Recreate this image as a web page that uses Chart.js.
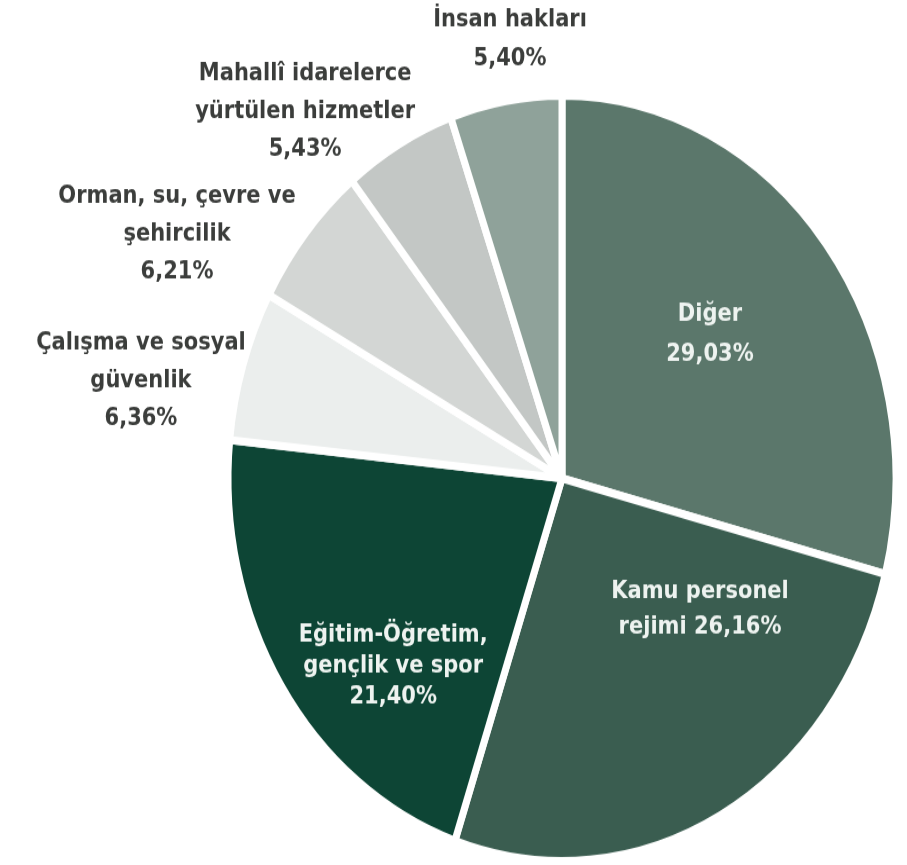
<!DOCTYPE html>
<html>
<head>
<meta charset="utf-8">
<script src="https://cdn.jsdelivr.net/npm/chart.js@4/dist/chart.umd.min.js"></script>
<style>
    html, body { margin: 0; padding: 0; background: #fff; width: 907px; height: 865px; overflow: hidden; }
    /* the reference picture is stretched vertically, so the whole canvas is too */
    #wrap { width: 907px; height: 755px; transform: scaleY(1.1457); transform-origin: 0 0; }
</style>
</head>
<body>
<div id="wrap"><canvas id="pieChart" width="907" height="755"></canvas></div>
<script>
// data
const categories = ['Diğer', 'Kamu personel rejimi', 'Eğitim-Öğretim, gençlik ve spor', 'Çalışma ve sosyal güvenlik',
    'Orman, su, çevre ve şehircilik', 'Mahallî idarelerce yürtülen hizmetler', 'İnsan hakları'];
const shares = [29.03, 26.16, 21.40, 6.36, 6.21, 5.43, 5.40];
const nameLines = [['Diğer'], ['Kamu personel', 'rejimi'], ['Eğitim-Öğretim,', 'gençlik ve spor'], ['Çalışma ve sosyal', 'güvenlik'],
    ['Orman, su, çevre ve', 'şehircilik'], ['Mahallî idarelerce', 'yürtülen hizmetler'], ['İnsan hakları']];

// styling
const sliceColors = ['#5b776b', '#3a5d50', '#0d4535', '#ebeeed', '#d3d6d4', '#c3c7c5', '#8fa29a'];
const insideLabel = [true, true, true, false, false, false, false];
const pctOnLastLine = [false, true, false, false, false, false, false];
// label block centre, in radius units from the pie centre, and line height
const labelAnchors = [[0.447, -0.379, 35], [0.417, 0.347, 31], [-0.51, 0.495, 27], [-1.272, -0.257, 33],
    [-1.163, -0.642, 33], [-0.776, -0.967, 33], [-0.157, -1.157, 34]];

const fmtPct = v => v.toFixed(2).replace('.', ',') + '%';

const sliceLabels = {
    id: 'sliceLabels',
    afterDraw(chart) {
        const ctx = chart.ctx;
        const arcs = chart.getDatasetMeta(0).data;
        const cx = arcs[0].x, cy = arcs[0].y;
        const r = arcs[0].outerRadius - 3;
        ctx.save();
        ctx.font = 'bold 21px "DejaVu Sans", sans-serif';
        ctx.textAlign = 'center';
        ctx.textBaseline = 'middle';
        shares.forEach((v, i) => {
            const lines = nameLines[i].slice();
            if (pctOnLastLine[i]) lines[lines.length - 1] += ' ' + fmtPct(v);
            else lines.push(fmtPct(v));
            const [dx, dy, lh] = labelAnchors[i];
            const x = cx + dx * r;
            const y0 = cy + dy * r - (lines.length - 1) * lh / 2;
            ctx.fillStyle = insideLabel[i] ? '#eef3f0' : '#3b3d3b';
            lines.forEach((t, k) => ctx.fillText(t, x, y0 + k * lh));
        });
        ctx.restore();
    }
};

new Chart(document.getElementById('pieChart'), {
    type: 'pie',
    data: {
        labels: categories,
        datasets: [{
            data: shares,
            backgroundColor: sliceColors,
            borderColor: '#ffffff',
            borderWidth: 7
        }]
    },
    options: {
        responsive: false,
        animation: false,
        rotation: 0,
        layout: { padding: { left: 224, right: 7, top: 80, bottom: 0 } },
        plugins: { legend: { display: false }, tooltip: { enabled: false } }
    },
    plugins: [sliceLabels]
});
</script>
</body>
</html>
